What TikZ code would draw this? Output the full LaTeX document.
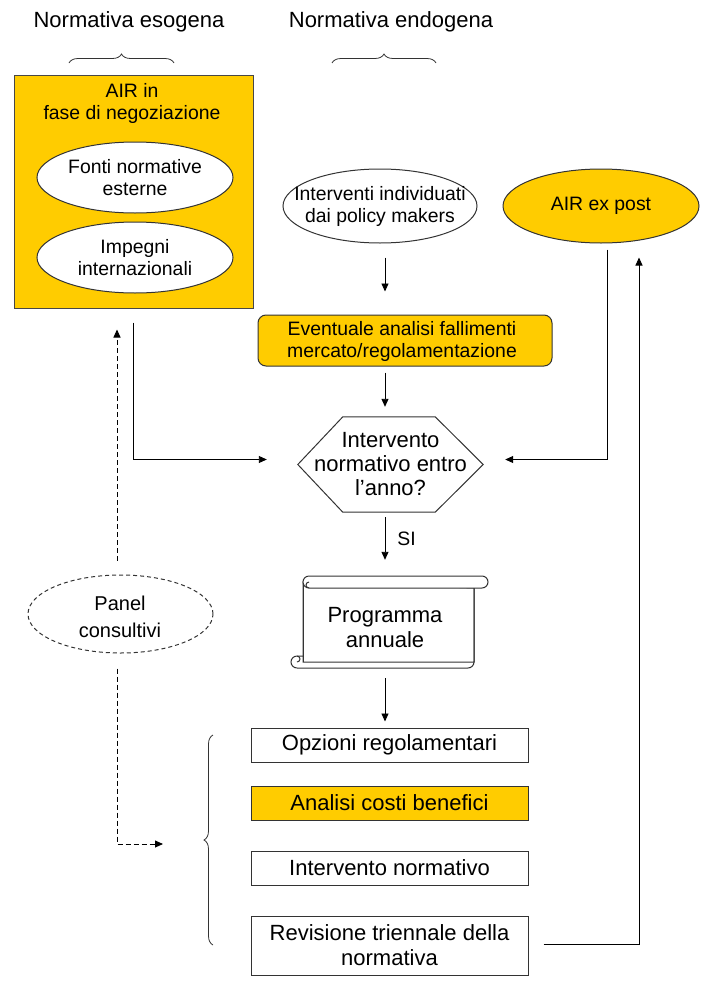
\documentclass[tikz,border=0pt]{standalone}
\usepackage{fontspec}
\setmainfont{Liberation Sans}
\usetikzlibrary{arrows.meta,decorations.pathreplacing,shapes.geometric}
\definecolor{gold}{HTML}{FFCC00}
\definecolor{edge}{HTML}{333333}
\begin{document}
\begin{tikzpicture}[x=1pt,y=-1pt,
  sm/.style={font=\fontsize{19.4}{22}\selectfont},
  bg/.style={font=\fontsize{22}{25}\selectfont},
  hd/.style={font=\fontsize{22}{25}\selectfont},
  conn/.style={draw=black, line width=0.9pt},
  arr/.style={conn, -{Triangle[length=8pt,width=7pt]}},
  darr/.style={arr, dash pattern=on 5pt off 3pt},
  ell/.style={ellipse, draw=edge, line width=1pt, inner sep=0pt},
  rbox/.style={rectangle, draw=edge, line width=1pt, inner sep=0pt, align=center},
  txt/.style={align=center, inner sep=0pt},
  bracestyle/.style={decorate, decoration={brace, amplitude=9pt}, draw=edge, line width=0.8pt},
  shapeline/.style={draw=edge, line width=1pt}
]
\useasboundingbox (0,0) rectangle (718,996);

% headers
\node[txt, hd] (hexo) at (129,22) {Normativa esogena};
\node[txt, hd] (hendo) at (391,22) {Normativa endogena};
\draw[bracestyle] (69,63) -- (174,63);
\draw[bracestyle] (332,63) -- (436,63);

% left box
\node[rbox, fill=gold, draw=edge!90, minimum width=239pt, minimum height=233pt] (airbox) at (133.5,191.5) {};
\node[txt, sm] (airtitle) at (132,103) {AIR in\\fase di negoziazione};
\node[ell, fill=white, minimum width=196pt, minimum height=71pt] (fonti) at (135,177.5) {};
\node[txt, sm] (fontitxt) at (fonti) {Fonti normative\\esterne};
\node[ell, fill=white, minimum width=196pt, minimum height=71pt] (impegni) at (135,257.5) {};
\node[txt, sm] (impegnitxt) at (impegni) {Impegni\\internazionali};

% top middle / right
\node[ell, fill=white, minimum width=194pt, minimum height=74pt] (int) at (380,206) {};
\node[txt, sm] (inttxt) at (int) {Interventi individuati\\dai policy makers};
\node[ell, fill=gold, minimum width=196pt, minimum height=74pt] (expost) at (601,206) {};
\node[txt, sm] (expostxt) at (expost) {AIR ex post};

\node[rbox, fill=gold, rounded corners=8pt, minimum width=294pt, minimum height=51pt] (ev) at (405,340.5) {};
\node[txt, sm] (evtxt) at (402,341) {Eventuale analisi fallimenti\\mercato/regolamentazione};

% hexagon
\node[txt, font=\fontsize{22}{24}\selectfont, minimum width=185pt, minimum height=95pt] (hex) at (390.5,464.5) {Intervento\\normativo entro\\l’anno?};
\draw[shapeline] (hex.west) -- ([xshift=45pt]hex.north west) -- ([xshift=-48pt]hex.north east) -- (hex.east) -- ([xshift=-48pt]hex.south east) -- ([xshift=45pt]hex.south west) -- cycle;

% scroll
\node[txt, minimum width=198pt, minimum height=92pt] (prog) at (389,622) {};
\draw[shapeline, fill=white] (303,582) -- (303,662) -- (474,662) -- (474,588) -- cycle;
\draw[shapeline] (303,582) -- (303,662);
\draw[shapeline] (474,588) -- (474,662) arc[start angle=0, end angle=-90, radius=6pt] -- (297,668);
\draw[shapeline] (297,668) arc[start angle=-90, end angle=-270, radius=6pt] -- (303,656);
\draw[shapeline] (297,656) arc[start angle=90, end angle=-90, radius=3pt];
\draw[shapeline, fill=white] (309,576) -- (482,576) arc[start angle=90, end angle=-90, radius=6pt] -- (309,588) arc[start angle=-90, end angle=-270, radius=6pt];
\draw[shapeline] (309,588) arc[start angle=-90, end angle=-270, radius=3pt];
\node[txt, bg] (progtxt) at (385,628) {Programma\\annuale};

% bottom boxes
\node[rbox, bg, minimum width=277pt, minimum height=34pt] (opz) at (389.5,745) {Opzioni regolamentari};
\node[rbox, bg, fill=gold, minimum width=277pt, minimum height=34pt] (ana) at (389.5,803) {Analisi costi benefici};
\node[rbox, bg, minimum width=277pt, minimum height=34pt] (intn) at (389.5,868) {Intervento normativo};
\node[rbox, bg, minimum width=277pt, minimum height=59pt] (rev) at (389.5,945.5) {Revisione triennale della\\normativa};
\draw[bracestyle] (213,945) -- (213,735);

% panel
\node[ell, dash pattern=on 4pt off 3pt, minimum width=185pt, minimum height=78pt] (panel) at (120.5,614) {};
\node[txt, font=\fontsize{20}{27}\selectfont] (paneltxt) at (120,617) {Panel\\consultivi};
\coordinate (panelin) at (163,844);

% connectors
\draw[arr] ([xshift=5pt,yshift=-14pt]int.south) -- ([xshift=-20pt,yshift=23pt]ev.north);
\draw[arr] ([xshift=-20pt,yshift=-6pt]ev.south) -- ([xshift=-5.5pt,yshift=10pt]hex.north);
\draw[arr] ([xshift=-5.5pt,yshift=-5pt]hex.south) -- node[right=12pt, sm, inner sep=0pt] (si) {SI} ([xshift=-4pt,yshift=16pt]prog.north);
\draw[arr] ([xshift=-4pt,yshift=-10pt]prog.south) -- ([xshift=-4.5pt,yshift=6pt]opz.north);
\draw[arr] ([yshift=-14pt]airbox.south) |- ([xshift=-31pt,yshift=5pt]hex.west);
\draw[arr] ([xshift=6pt,yshift=-6pt]expost.south) |- ([xshift=22pt,yshift=5pt]hex.east);
\draw[arr] ([xshift=15pt,yshift=1.5pt]rev.east) -| ([xshift=38pt,yshift=-14pt]expost.south);
\draw[darr] ([xshift=-3.5pt,yshift=14pt]panel.north) -- ([xshift=-16.5pt,yshift=-21pt]airbox.south);
\draw[darr] ([xshift=-3.5pt,yshift=-15pt]panel.south) |- (panelin);
\end{tikzpicture}
\end{document}
